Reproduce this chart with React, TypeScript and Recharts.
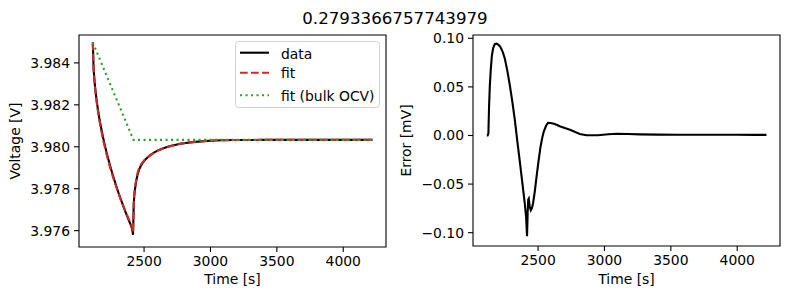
import React from 'react'
import { LineChart, Line, XAxis, YAxis, ReferenceArea, Legend, Label } from 'recharts'

const FONT = '"DejaVu Sans", sans-serif'
const TITLE = '0.2793366757743979'

// relaxation run: time [s], measured and fitted voltage [V], fit error [mV]
const TIME_S = [
  2114, 2120, 2126, 2131, 2137, 2144, 2152, 2162, 2174, 2187,
  2200, 2217, 2235, 2250, 2268, 2287, 2306, 2325, 2343, 2362,
  2381, 2400, 2410, 2417, 2422, 2426, 2430, 2437, 2445, 2453,
  2462, 2475, 2488, 2503, 2518, 2532, 2543, 2560, 2575, 2594,
  2613, 2640, 2663, 2690, 2713, 2740, 2763, 2790, 2814, 2864,
  2951, 3030, 3090, 3180, 3265, 3400, 3550, 3700, 3850, 4000,
  4120, 4220,
]

const VOLTAGE_DATA = [
  3.98497, 3.98371, 3.98319, 3.98285, 3.9825, 3.98215, 3.9818, 3.9814, 3.98098, 3.98057,
  3.98019, 3.97974, 3.97931, 3.97896, 3.97858, 3.9782, 3.97783, 3.97749, 3.97718, 3.97686,
  3.97656, 3.97626, 3.97608, 3.9758, 3.9772, 3.97765, 3.9779, 3.97822, 3.9785, 3.97872,
  3.9789, 3.97908, 3.97922, 3.97934, 3.97944, 3.97952, 3.97958, 3.97966, 3.97972, 3.97979,
  3.97985, 3.97992, 3.97997, 3.98002, 3.98006, 3.9801, 3.98013, 3.98016, 3.98018, 3.98022,
  3.98027, 3.9803, 3.98031, 3.98032, 3.98032, 3.98033, 3.98033, 3.98033, 3.98033, 3.98033,
  3.98033, 3.98033,
]

const VOLTAGE_FIT = [
  3.98497, 3.98371, 3.98319, 3.98282, 3.98245, 3.98208, 3.98172, 3.98131, 3.98089, 3.98048,
  3.9801, 3.97965, 3.97922, 3.97888, 3.97851, 3.97815, 3.9778, 3.97747, 3.97719, 3.97689,
  3.97661, 3.97633, 3.97616, 3.9759, 3.97728, 3.97772, 3.97796, 3.97829, 3.97858, 3.9788,
  3.97897, 3.97914, 3.97926, 3.97937, 3.97945, 3.97952, 3.97958, 3.97965, 3.97971, 3.97978,
  3.97984, 3.97991, 3.97996, 3.98001, 3.98005, 3.98009, 3.98013, 3.98016, 3.98018, 3.98022,
  3.98027, 3.9803, 3.98031, 3.98032, 3.98032, 3.98033, 3.98033, 3.98033, 3.98033, 3.98033,
  3.98033, 3.98033,
]

const ERROR_MV = [
  0, 0, 0.002, 0.03, 0.052, 0.068, 0.082, 0.09, 0.094, 0.0945,
  0.0935, 0.091, 0.0855, 0.079, 0.067, 0.052, 0.035, 0.016, -0.005, -0.026,
  -0.048, -0.07, -0.084, -0.1036, -0.078, -0.066, -0.065, -0.073, -0.077, -0.075,
  -0.07, -0.058, -0.043, -0.027, -0.012, -0.002, 0.004, 0.01, 0.013, 0.0128,
  0.0123, 0.011, 0.0096, 0.0083, 0.0072, 0.006, 0.0047, 0.003, 0.0015, 0.0002,
  0.0002, 0.0012, 0.0018, 0.0016, 0.0012, 0.0009, 0.0008, 0.0008, 0.0007, 0.0007,
  0.0006, 0.0006,
]

// bulk OCV fit: linear drop until the current stops, then constant
const BULK_TIME_S = [2114, 2420, 4220]
const BULK_OCV = [3.98497, 3.98033, 3.98033]

const TIME_TICKS = [2500, 3000, 3500, 4000]
const VOLTAGE_TICKS = [3.976, 3.978, 3.98, 3.982, 3.984]
const ERROR_TICKS = [-0.1, -0.05, 0, 0.05, 0.1]

const TIME_DOMAIN: [number, number] = [2010, 4322]
const VOLTAGE_DOMAIN: [number, number] = [3.97522, 3.98533]
const ERROR_DOMAIN: [number, number] = [-0.1137, 0.1034]

const voltageRows = TIME_S.map((t, i) => ({ t, data: VOLTAGE_DATA[i], fit: VOLTAGE_FIT[i] }))
const bulkRows = BULK_TIME_S.map((t, i) => ({ t, bulk: BULK_OCV[i] }))
const errorRows = TIME_S.map((t, i) => ({ t, err: ERROR_MV[i] }))

const tickStyle = { fill: '#000', fontSize: 13.9, fontFamily: FONT }
const tickLine = { stroke: '#000', strokeWidth: 1.1 }

const minus = (s: string) => s.replace('-', '\u2212')

function yTitle(text: string, x: number) {
  return ({ viewBox }: any) => {
    const y = viewBox.y + viewBox.height / 2
    return (
      <text x={x} y={y} transform={`rotate(-90 ${x} ${y})`} textAnchor="middle"
        fontSize={13.9} fontFamily={FONT} fill="#000">{text}</text>
    )
  }
}

function xTitle(text: string) {
  return ({ viewBox }: any) => (
    <text x={viewBox.x + viewBox.width / 2} y={284} textAnchor="middle"
      fontSize={13.9} fontFamily={FONT} fill="#000">{text}</text>
  )
}

const LEGEND_ITEMS = [
  { label: 'data', color: '#000', dash: undefined, y: 11.7, ty: 17.5 },
  { label: 'fit', color: '#d62728', dash: '7.7 3.3', y: 31.7, ty: 37 },
  { label: 'fit (bulk OCV)', color: '#2ca02c', dash: '2.1 3.4', y: 54.3, ty: 59.5 },
]

const LegendBox = () => (
  <svg width={146} height={68} style={{ display: 'block' }}>
    <rect x={0.5} y={0.5} width={144} height={66} rx={3} fill="#fff" fillOpacity={0.8} stroke="#d0d0d0" />
    {LEGEND_ITEMS.map((it) => (
      <g key={it.label}>
        <line x1={5} x2={34} y1={it.y} y2={it.y} stroke={it.color} strokeWidth={2.1} strokeDasharray={it.dash} />
        <text x={46} y={it.ty} fontSize={13.9} fontFamily={FONT} fill="#000">{it.label}</text>
      </g>
    ))}
  </svg>
)

export default function App() {
  return (
    <div style={{ position: 'absolute', left: 0, top: 0, width: 790, height: 299, background: '#fff' }}>
      <svg width={790} height={30} style={{ position: 'absolute', left: 0, top: 0 }}>
        <text x={395} y={24} textAnchor="middle" fontSize={16.67} fontFamily={FONT} fill="#000">{TITLE}</text>
      </svg>

      <div style={{ position: 'absolute', left: 0, top: 0 }}>
        <LineChart width={395} height={299} data={voltageRows} margin={{ top: 35, right: 9, bottom: 22, left: 0 }}>
          <XAxis dataKey="t" type="number" domain={TIME_DOMAIN} allowDataOverflow ticks={TIME_TICKS}
            height={30} tick={tickStyle} tickLine={tickLine} tickSize={5} tickMargin={4} axisLine={false}>
            <Label content={xTitle('Time [s]')} />
          </XAxis>
          <YAxis type="number" domain={VOLTAGE_DOMAIN} allowDataOverflow ticks={VOLTAGE_TICKS}
            width={79} tick={tickStyle} tickLine={tickLine} tickSize={5} tickMargin={4} axisLine={false}
            tickFormatter={(v: number) => v.toFixed(3)}>
            <Label content={yTitle('Voltage [V]', 19.5)} />
          </YAxis>
          <ReferenceArea x1={TIME_DOMAIN[0]} x2={TIME_DOMAIN[1]} y1={VOLTAGE_DOMAIN[0]} y2={VOLTAGE_DOMAIN[1]}
            fill="none" stroke="#000" strokeWidth={1.1} />
          <Line dataKey="data" stroke="#000" strokeWidth={2.1} dot={false} isAnimationActive={false} />
          <Line dataKey="fit" stroke="#d62728" strokeWidth={2.1} strokeDasharray="7.7 3.3" dot={false} isAnimationActive={false} />
          <Line data={bulkRows} dataKey="bulk" stroke="#2ca02c" strokeWidth={2.1} strokeDasharray="2.1 3.4" dot={false} isAnimationActive={false} />
          <Legend layout="vertical" align="center" verticalAlign="middle" content={LegendBox}
            wrapperStyle={{ left: 235, top: 41, width: 146, height: 68 }} />
        </LineChart>
      </div>

      <div style={{ position: 'absolute', left: 395, top: 0 }}>
        <LineChart width={395} height={299} data={errorRows} margin={{ top: 35, right: 10, bottom: 23, left: 0 }}>
          <XAxis dataKey="t" type="number" domain={TIME_DOMAIN} allowDataOverflow ticks={TIME_TICKS}
            height={30} tick={tickStyle} tickLine={tickLine} tickSize={5} tickMargin={4} axisLine={false}>
            <Label content={xTitle('Time [s]')} />
          </XAxis>
          <YAxis type="number" domain={ERROR_DOMAIN} allowDataOverflow ticks={ERROR_TICKS}
            width={78} tick={tickStyle} tickLine={tickLine} tickSize={5} tickMargin={4} axisLine={false}
            tickFormatter={(v: number) => minus(v.toFixed(2))}>
            <Label content={yTitle('Error [mV]', 16)} />
          </YAxis>
          <ReferenceArea x1={TIME_DOMAIN[0]} x2={TIME_DOMAIN[1]} y1={ERROR_DOMAIN[0]} y2={ERROR_DOMAIN[1]}
            fill="none" stroke="#000" strokeWidth={1.1} />
          <Line dataKey="err" stroke="#000" strokeWidth={2.1} dot={false} isAnimationActive={false} />
        </LineChart>
      </div>
    </div>
  )
}
